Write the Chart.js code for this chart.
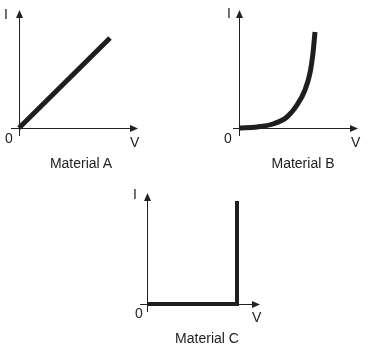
<!DOCTYPE html>
<html>
<head>
<meta charset="utf-8">
<script src="https://cdn.jsdelivr.net/npm/chart.js@4/dist/chart.umd.min.js"></script>
<style>
  html, body { margin: 0; padding: 0; background: #fff; }
  #wrap { position: relative; width: 368px; height: 345px; overflow: hidden; }
  canvas { position: absolute; }
  .lbl { position: absolute; font-family: "Liberation Sans", Arial, sans-serif; font-size: 14px; line-height: 14px; color: #222; white-space: nowrap; }
  .ttl { text-align: center; width: 120px; }
</style>
</head>
<body>
<div id="wrap">
  <canvas id="chartA" width="180" height="175" style="left:0;top:0"></canvas>
  <canvas id="chartB" width="178" height="175" style="left:190px;top:0"></canvas>
  <canvas id="chartC" width="160" height="170" style="left:120px;top:175px"></canvas>
</div>
<script>
// data (arbitrary units, axes are unscaled)
const panelTitles = ['Material A', 'Material B', 'Material C'];
const axisNames = ['V', 'I'];
const originLabel = '0';

const voltsA = [0, 91];
const currentA = [0, 90];

const voltsB = [0, 18, 34, 48, 58, 66, 71, 74, 76];
const currentB = [0, 1, 4, 11, 23, 38, 55, 75, 96];

const voltsC = [0, 90, 90];
const currentC = [0, 0, 103];

const ink = '#1e1e1e';

// draws both axes through the origin, with arrow heads
const arrowAxes = {
    id: 'arrowAxes',
    beforeDatasetsDraw(chart) {
        const ctx = chart.ctx;
        const xs = chart.scales.x, ys = chart.scales.y;
        const x0 = xs.getPixelForValue(0), y0 = ys.getPixelForValue(0);
        const xEnd = xs.getPixelForValue(xs.max), yEnd = ys.getPixelForValue(ys.max);
        ctx.save();
        ctx.strokeStyle = '#222';
        ctx.fillStyle = '#222';
        ctx.lineWidth = 1;
        ctx.beginPath();
        ctx.moveTo(xs.getPixelForValue(xs.min), Math.round(y0) + 0.5);
        ctx.lineTo(xEnd - 5, Math.round(y0) + 0.5);
        ctx.moveTo(Math.round(x0) + 0.5, ys.getPixelForValue(ys.min));
        ctx.lineTo(Math.round(x0) + 0.5, yEnd + 5);
        ctx.stroke();
        ctx.beginPath();
        ctx.moveTo(xEnd, Math.round(y0) + 0.5);
        ctx.lineTo(xEnd - 8, Math.round(y0) - 3);
        ctx.lineTo(xEnd - 8, Math.round(y0) + 4);
        ctx.closePath();
        ctx.moveTo(Math.round(x0) + 0.5, yEnd);
        ctx.lineTo(Math.round(x0) - 3, yEnd + 8);
        ctx.lineTo(Math.round(x0) + 4, yEnd + 8);
        ctx.closePath();
        ctx.fill();
        ctx.restore();
    }
};

function makePanel(id, volts, current, range, padding, width) {
    const points = volts.map((v, i) => ({ x: v, y: current[i] }));
    return new Chart(document.getElementById(id), {
        type: 'scatter',
        data: {
            datasets: [{
                data: points,
                showLine: true,
                borderColor: ink,
                borderWidth: width,
                borderCapStyle: 'butt',
                borderJoinStyle: 'miter',
                cubicInterpolationMode: 'monotone',
                pointRadius: 0,
                clip: false
            }]
        },
        options: {
            responsive: false,
            animation: false,
            devicePixelRatio: 1,
            layout: { padding: padding },
            plugins: { legend: { display: false }, tooltip: { enabled: false } },
            scales: {
                x: { type: 'linear', display: false, min: range[0], max: range[1] },
                y: { type: 'linear', display: false, min: range[2], max: range[3] }
            }
        },
        plugins: [arrowAxes]
    });
}

makePanel('chartA', voltsA, currentA, [-8, 119, -8, 118], { left: 11, right: 42, top: 10, bottom: 39 }, 5);
makePanel('chartB', voltsB, currentB, [-6, 119, -8, 118], { left: 43, right: 10, top: 10, bottom: 39 }, 5);
makePanel('chartC', voltsC, currentC, [-7, 113, -8, 111], { left: 20, right: 20, top: 18, bottom: 33 }, 4);

// text labels: [text, left, baseline, centred]
const wrap = document.getElementById('wrap');
const labels = [
    [axisNames[1], 4, 19], [originLabel, 5, 143], [axisNames[0], 130, 147], [panelTitles[0], 81, 168, true],
    [axisNames[1], 227, 18], [originLabel, 224, 143], [axisNames[0], 351, 147], [panelTitles[1], 303, 168, true],
    [axisNames[1], 133, 199], [originLabel, 135, 318], [axisNames[0], 252, 322], [panelTitles[2], 207, 343, true]
];
labels.forEach(([text, x, base, centred]) => {
    const el = document.createElement('div');
    el.className = centred ? 'lbl ttl' : 'lbl';
    el.textContent = text;
    el.style.left = (centred ? x - 60 : x) + 'px';
    el.style.top = (base - 11.6) + 'px';
    wrap.appendChild(el);
});
</script>
</body>
</html>
